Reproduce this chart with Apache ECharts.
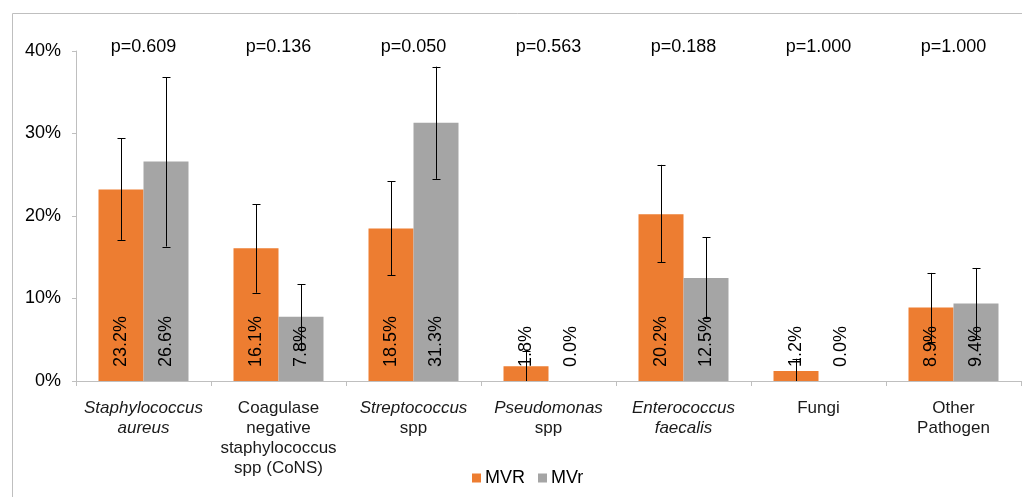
<!DOCTYPE html>
<html>
<head>
<meta charset="utf-8">
<script src="https://cdn.jsdelivr.net/npm/echarts@6/dist/echarts.min.js"></script>
<style>
html,body{margin:0;padding:0;background:#fff;}
#chart{width:1022px;height:497px;}
</style>
</head>
<body>
<div id="chart"></div>
<script>
// ---- data ----
var categories = ['Staphylococcus aureus', 'Coagulase negative staphylococcus spp (CoNS)', 'Streptococcus spp', 'Pseudomonas spp', 'Enterococcus faecalis', 'Fungi', 'Other Pathogen'];
var categoryLabels = [
  '{i|Staphylococcus}\n{i|aureus}',
  '{n|Coagulase}\n{n|negative}\n{n|staphylococcus}\n{n|spp (CoNS)}',
  '{i|Streptococcus}\n{n|spp}',
  '{i|Pseudomonas}\n{n|spp}',
  '{i|Enterococcus}\n{i|faecalis}',
  '{n|Fungi}',
  '{n|Other}\n{n|Pathogen}'
];
var mvrValues = [23.2, 16.1, 18.5, 1.8, 20.2, 1.2, 8.9];
var mvrLow    = [17.1, 10.7, 12.8, 0.0, 14.4, 0.0, 4.7];
var mvrHigh   = [29.4, 21.4, 24.2, 3.6, 26.2, 2.7, 13.1];
var mvrsValues = [26.6, 7.8, 31.3, 0.0, 12.5, 0.0, 9.4];
var mvrsLow    = [16.3, 3.9, 24.5, 0.0, 7.6, 0.0, 5.1];
var mvrsHigh   = [36.8, 11.7, 38.1, 0.0, 17.4, 0.0, 13.7];
var pValues = ['p=0.609', 'p=0.136', 'p=0.050', 'p=0.563', 'p=0.188', 'p=1.000', 'p=1.000'];
var yTicks = [0, 10, 20, 30, 40];

var FONT = '"Liberation Sans", Arial, sans-serif';
var TXT = '#000';

var errData = [];
for (var i = 0; i < categories.length; i++) {
  if (mvrHigh[i] > mvrLow[i]) errData.push([i, mvrValues[i], mvrLow[i], mvrHigh[i], 0]);
  if (mvrsHigh[i] > mvrsLow[i]) errData.push([i, mvrsValues[i], mvrsLow[i], mvrsHigh[i], 1]);
}
var pData = pValues.map(function (p, i) { return [i, yTicks[yTicks.length - 1], p]; });

var barLabel = {
  show: true,
  position: 'insideBottom',
  rotate: 90,
  align: 'left',
  verticalAlign: 'middle',
  distance: 14,
  fontFamily: FONT,
  fontSize: 18,
  color: TXT,
  formatter: function (p) { return p.value.toFixed(1) + '%'; }
};

var chart = echarts.init(document.getElementById('chart'));
chart.setOption({
  animation: false,
  backgroundColor: '#fff',
  graphic: [{
    type: 'rect',
    shape: { x: 12.5, y: 13.5, width: 1100, height: 600 },
    style: { fill: 'none', stroke: '#bfbfbf', lineWidth: 1 },
    silent: true, z: -10
  }],
  grid: { left: 76, right: 1, top: 51, bottom: 116, containLabel: false },
  legend: {
    data: ['MVR', 'MVr'],
    left: 467, top: 464,
    icon: 'rect', itemWidth: 9, itemHeight: 9, itemGap: 13,
    textStyle: { fontFamily: FONT, fontSize: 18, color: TXT, padding: [0, 0, 0, -1] }
  },
  xAxis: {
    type: 'category',
    data: categories,
    axisLine: { lineStyle: { color: '#bfbfbf', width: 1 } },
    axisTick: { show: true, length: 5, alignWithLabel: false, lineStyle: { color: '#bfbfbf' } },
    axisLabel: {
      interval: 0,
      margin: 17,
      formatter: function (v, idx) { return categoryLabels[idx]; },
      rich: {
        i: { fontFamily: FONT, fontSize: 17, fontStyle: 'italic', color: '#1a1a1a', lineHeight: 20 },
        n: { fontFamily: FONT, fontSize: 17, color: '#1a1a1a', lineHeight: 20 }
      }
    }
  },
  yAxis: {
    type: 'value',
    min: 0, max: 40, interval: 10,
    splitLine: { show: false },
    axisLine: { show: true, lineStyle: { color: '#bfbfbf', width: 1 } },
    axisTick: { show: true, length: 4, lineStyle: { color: '#bfbfbf' } },
    axisLabel: { fontFamily: FONT, fontSize: 18, color: TXT, margin: 15, formatter: '{value}%' }
  },
  series: [
    {
      name: 'MVR', type: 'bar', data: mvrValues,
      barGap: '0%', barCategoryGap: '33.34%',
      itemStyle: { color: '#ED7D31' },
      label: barLabel
    },
    {
      name: 'MVr', type: 'bar', data: mvrsValues,
      barGap: '0%', barCategoryGap: '33.34%',
      itemStyle: { color: '#A5A5A5' },
      label: barLabel
    },
    {
      type: 'custom', name: 'err', silent: true, z: 5,
      data: errData,
      renderItem: function (params, api) {
        var x = api.value(0);
        var lo = api.coord([x, api.value(2)]);
        var hi = api.coord([x, api.value(3)]);
        var band = api.size([1, 0])[0];
        var off = (api.value(4) === 0 ? -1 : 1) * band / 6;
        var cx = Math.round(lo[0] + off) + 0.5;
        var cap = 4;
        var st = { stroke: '#000', lineWidth: 1 };
        var children = [
          { type: 'line', shape: { x1: cx, y1: hi[1], x2: cx, y2: lo[1] }, style: st },
          { type: 'line', shape: { x1: cx - cap, y1: Math.round(hi[1]) + 0.5, x2: cx + cap, y2: Math.round(hi[1]) + 0.5 }, style: st }
        ];
        if (api.value(2) > 0) {
          children.push({ type: 'line', shape: { x1: cx - cap, y1: Math.round(lo[1]) + 0.5, x2: cx + cap, y2: Math.round(lo[1]) + 0.5 }, style: st });
        }
        return { type: 'group', children: children };
      }
    },
    {
      type: 'scatter', name: 'p', silent: true, clip: false,
      symbolSize: 0,
      itemStyle: { opacity: 1 },
      data: pData,
      label: {
        show: true, position: 'inside', offset: [0, -4], opacity: 1,
        fontFamily: FONT, fontSize: 18, color: TXT,
        formatter: function (p) { return p.value[2]; }
      }
    }
  ]
});
</script>
</body>
</html>
